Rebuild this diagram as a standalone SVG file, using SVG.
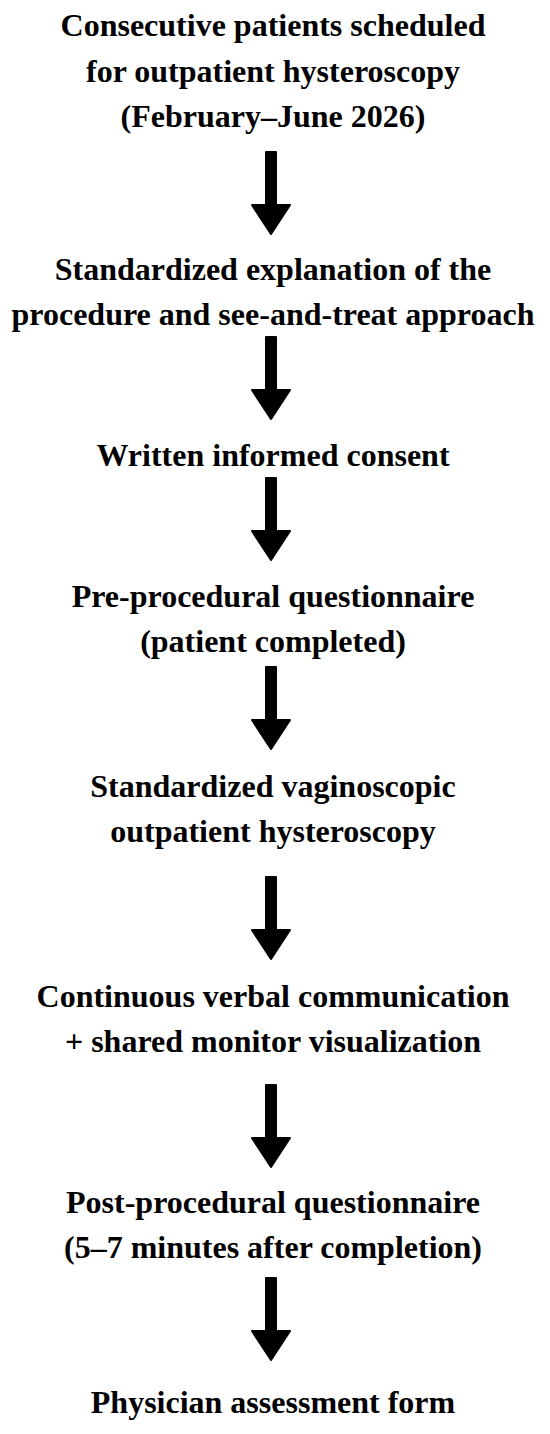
<svg xmlns="http://www.w3.org/2000/svg" xmlns:xlink="http://www.w3.org/1999/xlink" width="550" height="1434" viewBox="0 0 550 1434">
  <style>
    .t { font-family: "Liberation Serif", "Times New Roman", serif; font-weight: bold; font-size: 32px; fill: #000; text-anchor: middle; }
    .arrow { fill: #000; stroke: #000; stroke-width: 2; stroke-linejoin: round; }
  </style>
  <defs>
    <path id="arr" class="arrow" d="M -5 0 H 5 V 53 H 19 L 0 82 L -19 53 H -5 Z"/>
  </defs>
  <rect width="550" height="1434" fill="#fff"/>
  <g id="connectors">
    <use xlink:href="#arr" href="#arr" x="271" y="152"/>
    <use xlink:href="#arr" href="#arr" x="271" y="337"/>
    <use xlink:href="#arr" href="#arr" x="271" y="478"/>
    <use xlink:href="#arr" href="#arr" x="271" y="667"/>
    <use xlink:href="#arr" href="#arr" x="271" y="877"/>
    <use xlink:href="#arr" href="#arr" x="271" y="1085"/>
    <use xlink:href="#arr" href="#arr" x="271" y="1278"/>
  </g>
  <g id="n1">
    <text class="t" x="273" y="36">Consecutive patients scheduled</text>
    <text class="t" x="273" y="82">for outpatient hysteroscopy</text>
    <text class="t" x="273" y="127">(February–June 2026)</text>
  </g>
  <g id="n2">
    <text class="t" x="273" y="280">Standardized explanation of the</text>
    <text class="t" x="273" y="325">procedure and see-and-treat approach</text>
  </g>
  <g id="n3">
    <text class="t" x="273" y="466">Written informed consent</text>
  </g>
  <g id="n4">
    <text class="t" x="273" y="607">Pre-procedural questionnaire</text>
    <text class="t" x="273" y="652">(patient completed)</text>
  </g>
  <g id="n5">
    <text class="t" x="273" y="797">Standardized vaginoscopic</text>
    <text class="t" x="273" y="842">outpatient hysteroscopy</text>
  </g>
  <g id="n6">
    <text class="t" x="273" y="1007">Continuous verbal communication</text>
    <text class="t" x="273" y="1052">+ shared monitor visualization</text>
  </g>
  <g id="n7">
    <text class="t" x="273" y="1213">Post-procedural questionnaire</text>
    <text class="t" x="273" y="1258">(5–7 minutes after completion)</text>
  </g>
  <g id="n8">
    <text class="t" x="273" y="1413">Physician assessment form</text>
  </g>
</svg>
